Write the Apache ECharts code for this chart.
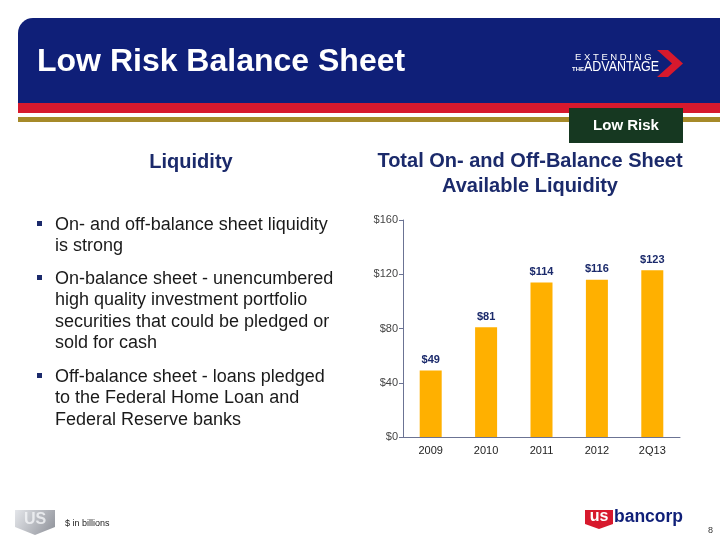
<!DOCTYPE html>
<html>
<head>
<meta charset="utf-8">
<title>Low Risk Balance Sheet</title>
<script src="https://cdn.jsdelivr.net/npm/echarts@6/dist/echarts.min.js"></script>
<style>
  html, body { margin: 0; padding: 0; background: #fff; }
  #main { width: 720px; height: 540px; }
</style>
</head>
<body>
<div id="main"></div>
<script>
// chart data ($ in billions)
const categories = ["2009", "2010", "2011", "2012", "2Q13"]
const liquidity = [49, 81, 114, 116, 123]
const yTicks = { min: 0, max: 160, interval: 40 }

const bullets = [
  ["On- and off-balance sheet liquidity", "is strong"],
  ["On-balance sheet - unencumbered", "high quality investment portfolio", "securities that could be pledged or", "sold for cash"],
  ["Off-balance sheet - loans pledged", "to the Federal Home Loan and", "Federal Reserve banks"]
]

const FONT = "'Liberation Sans', Arial, sans-serif"
const NAVY = "#0f1f78"
const TEXT_NAVY = "#1b2a6b"
const RED = "#d7192d"
const GOLD = "#a68a29"

// slide decoration built as graphic elements
let graphic = [
  // header banner
  { type: "rect", shape: { x: 18, y: 18, width: 702, height: 85, r: [15, 0, 0, 0] }, style: { fill: NAVY } },
  { type: "rect", shape: { x: 18, y: 103, width: 702, height: 10 }, style: { fill: RED } },
  { type: "rect", shape: { x: 18, y: 117, width: 702, height: 5 }, style: { fill: GOLD } },
  { type: "text", x: 37, y: 78, style: { text: "Low Risk Balance Sheet", fill: "#fff", font: "bold 32px " + FONT, textVerticalAlign: "bottom" } },
  // extending the advantage logo
  { type: "text", x: 575, y: 62, style: { text: "E X T E N D I N G", fill: "#fff", font: "9.5px " + FONT, textVerticalAlign: "bottom" } },
  { type: "text", x: 572, y: 72.5, style: { text: "THE", fill: "#fff", font: "bold 6px " + FONT, textVerticalAlign: "bottom" } },
  { type: "text", x: 584, y: 74, scaleX: 0.86, style: { text: "ADVANTAGE", fill: "#fff", font: "14.5px " + FONT, textVerticalAlign: "bottom" } },
  { type: "polygon", shape: { points: [[657, 50], [668, 50], [683, 63.5], [668, 77], [657, 77], [672, 63.5]] }, style: { fill: RED } },
  // low risk tag
  { type: "rect", shape: { x: 569, y: 108, width: 114, height: 35 }, style: { fill: "#163821" } },
  { type: "text", x: 626, y: 126, style: { text: "Low Risk", fill: "#fff", font: "bold 15px " + FONT, textAlign: "center", textVerticalAlign: "middle" } },
  // section headings
  { type: "text", x: 191, y: 162, style: { text: "Liquidity", fill: TEXT_NAVY, font: "bold 20px " + FONT, textAlign: "center", textVerticalAlign: "middle" } },
  { type: "text", x: 530, y: 161, style: { text: "Total On- and Off-Balance Sheet", fill: TEXT_NAVY, font: "bold 20px " + FONT, textAlign: "center", textVerticalAlign: "middle" } },
  { type: "text", x: 530, y: 186, style: { text: "Available Liquidity", fill: TEXT_NAVY, font: "bold 20px " + FONT, textAlign: "center", textVerticalAlign: "middle" } },
  // footer
  { type: "polygon", shape: { points: [[15, 510], [55, 510], [55, 527], [35, 535], [15, 527]] },
    style: { fill: new echarts.graphic.LinearGradient(0, 0, 1, 1, [{ offset: 0, color: "#e4e6ea" }, { offset: 1, color: "#8d9098" }]) } },
  { type: "text", x: 35, y: 520, style: { text: "US", fill: "#f4f5f7", font: "bold 16px " + FONT, textAlign: "center", textVerticalAlign: "middle", opacity: 0.8 } },
  { type: "text", x: 65, y: 524, style: { text: "$ in billions", fill: "#222", font: "9px " + FONT, textVerticalAlign: "middle" } },
  { type: "polygon", shape: { points: [[585, 510], [613, 510], [613, 524], [599, 529], [585, 524]] }, style: { fill: RED } },
  { type: "text", x: 599, y: 517, style: { text: "us", fill: "#fff", font: "bold 16px " + FONT, textAlign: "center", textVerticalAlign: "middle" } },
  { type: "text", x: 614, y: 526, style: { text: "bancorp", fill: NAVY, font: "bold 17.5px " + FONT, textVerticalAlign: "bottom" } },
  { type: "text", x: 708, y: 531, style: { text: "8", fill: "#333", font: "9px " + FONT, textVerticalAlign: "middle" } }
]

// bullet list
const lineStarts = [225, 279, 377]
const lineGap = 21.4
bullets.forEach((lines, i) => {
  graphic.push({ type: "rect", shape: { x: 37, y: lineStarts[i] - 4, width: 5, height: 5 }, style: { fill: TEXT_NAVY } })
  lines.forEach((line, j) => {
    graphic.push({
      type: "text", x: 55, y: lineStarts[i] + j * lineGap,
      style: { text: line, fill: "#1a1a1a", font: "18px " + FONT, textVerticalAlign: "middle" }
    })
  })
})

const option = {
  animation: false,
  backgroundColor: "#fff",
  textStyle: { fontFamily: FONT },
  grid: { left: 403, right: 40, top: 220, bottom: 103 },
  xAxis: {
    type: "category",
    data: categories,
    axisLine: { lineStyle: { color: "#6b7393" } },
    axisTick: { lineStyle: { color: "#6b7393" }, length: 4 },
    axisLabel: { color: "#222", fontSize: 11, margin: 8 }
  },
  yAxis: {
    type: "value",
    min: yTicks.min,
    max: yTicks.max,
    interval: yTicks.interval,
    splitLine: { show: false },
    axisLine: { show: true, lineStyle: { color: "#6b7393" } },
    axisTick: { show: true, length: 4, lineStyle: { color: "#6b7393" } },
    axisLabel: { color: "#444", fontSize: 11, margin: 5, formatter: "${value}" }
  },
  series: [
    {
      type: "bar",
      data: liquidity,
      barWidth: 22,
      itemStyle: { color: "#ffb000" },
      label: { show: true, position: "top", distance: 5, formatter: "${c}", color: TEXT_NAVY, fontWeight: "bold", fontSize: 11 }
    }
  ],
  graphic: graphic
}

const chart = echarts.init(document.getElementById("main"))
chart.setOption(option)
</script>
</body>
</html>
